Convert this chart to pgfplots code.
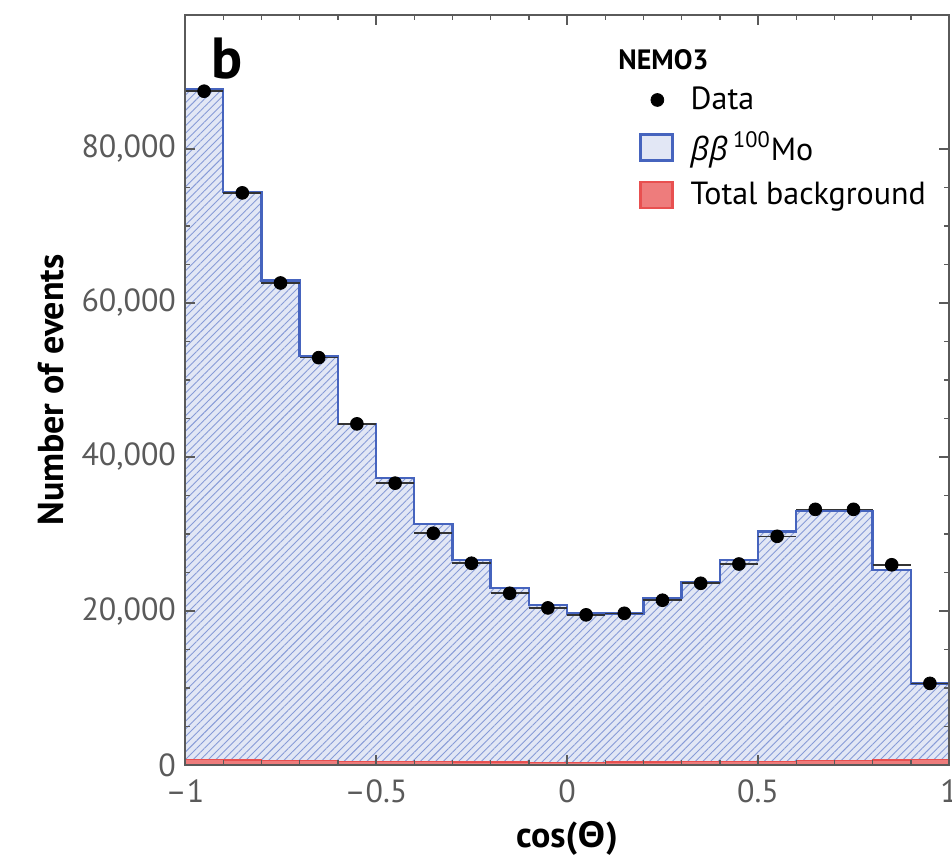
\documentclass[border=0pt]{standalone}
\usepackage{fontspec}
\setmainfont{PT Sans}
\newfontfamily\grk{Open Sans}
\usepackage{pgfplots}
\pgfplotsset{compat=1.18}
\usetikzlibrary{patterns.meta}

\definecolor{bbline}{RGB}{70,100,190}
\definecolor{bbfill}{RGB}{226,231,245}
\definecolor{bbhatch}{RGB}{135,155,215}
\definecolor{bgred}{RGB}{232,80,80}
\definecolor{axgray}{RGB}{90,90,90}

\begin{document}
\begin{tikzpicture}
\begin{axis}[
    name=ax,
    width=382pt, height=375pt,
    scale only axis,
    xmin=-1, xmax=1,
    ymin=0, ymax=97400,
    axis on top,
    axis line style={axgray, line width=0.8pt},
    every tick/.style={axgray, line width=0.7pt},
    tick align=inside,
    major tick length=5pt,
    minor tick length=2.5pt,
    xtick={-1,-0.5,0,0.5,1},
    xticklabels={--1,--0.5,0,0.5,1},
    minor x tick num=4,
    ytick={0,20000,40000,60000,80000},
    yticklabels={0,{20,000},{40,000},{60,000},{80,000}},
    minor y tick num=3,
    scaled y ticks=false,
    tick label style={font=\fontsize{16}{18}\selectfont, text=axgray},
    xticklabel style={yshift=-4pt},
    yticklabel style={xshift=-1pt},
    xlabel={\textbf{cos({\grk Θ})}},
    ylabel={\textbf{Number of events}},
    label style={font=\fontsize{18}{20}\selectfont},
    xlabel style={yshift=-2pt},
    ylabel style={yshift=2pt},
    legend style={at={(rel axis cs:0.586,0.915)}, anchor=north west,
        draw=none, fill=none, font=\fontsize{16}{18}\selectfont,
        row sep=5.5pt, cells={anchor=west}},
    legend cell align=left,
]
% beta beta 100Mo spectrum (histogram)
\addplot[const plot mark left, draw=bbline, line width=1.2pt,
    fill=bbfill, postaction={pattern={Lines[angle=45,distance=2.7pt,line width=0.45pt]}, pattern color=bbhatch},
    forget plot]
coordinates {
(-1.0,87800) (-0.9,74400) (-0.8,62900) (-0.7,53100) (-0.6,44300)
(-0.5,37300) (-0.4,31300) (-0.3,26600) (-0.2,23000) (-0.1,20800)
(0.0,19700) (0.1,19700) (0.2,21700) (0.3,23800) (0.4,26600)
(0.5,30300) (0.6,33000) (0.7,33000) (0.8,25300) (0.9,10600)
(1.0,10600)
} \closedcycle;
% total background
\addplot[const plot mark left, draw=bgred, line width=0.6pt,
    fill=bgred!75, forget plot]
coordinates {
(-1.0,700) (-0.9,650) (-0.8,600) (-0.7,550) (-0.6,500)
(-0.5,450) (-0.4,420) (-0.3,400) (-0.2,380) (-0.1,370)
(0.0,370) (0.1,380) (0.2,400) (0.3,420) (0.4,450)
(0.5,500) (0.6,550) (0.7,600) (0.8,650) (0.9,700)
(1.0,700)
} \closedcycle;
% data
\addplot[only marks, mark=*, mark size=3.2pt, black,
    error bars/.cd, x dir=both, x explicit,
    error mark=none, error bar style={black!80, line width=0.8pt},
    ]
table[x=x, y=y, x error=ex] {
x y ex
-0.95 87500 0.05
-0.85 74300 0.05
-0.75 62600 0.05
-0.65 52900 0.05
-0.55 44300 0.05
-0.45 36600 0.05
-0.35 30100 0.05
-0.25 26200 0.05
-0.15 22300 0.05
-0.05 20400 0.05
0.05 19500 0.05
0.15 19700 0.05
0.25 21400 0.05
0.35 23600 0.05
0.45 26100 0.05
0.55 29700 0.05
0.65 33200 0.05
0.75 33200 0.05
0.85 26000 0.05
0.95 10600 0.05
};
\addlegendentry{Data}
\addlegendimage{legend image code/.code={\draw[draw=bbline, fill=bbfill, line width=1.2pt] (0pt,-6.5pt) rectangle (16pt,6.5pt); \path (23pt,0);}}
\addlegendentry{{\grk\itshape ββ}\,\textsuperscript{100}Mo}
\addlegendimage{legend image code/.code={\draw[draw=bgred, fill=bgred!75, line width=1.2pt] (0pt,-6.5pt) rectangle (16pt,6.5pt); \path (23pt,0);}}
\addlegendentry{Total background}
\node[anchor=west, font=\fontsize{14}{16}\selectfont\bfseries] at (rel axis cs:0.558,0.94) {NEMO3};
\node[anchor=west, font=\fontsize{29}{30}\selectfont\bfseries] at (rel axis cs:0.025,0.942) {b};
\end{axis}
\pgfresetboundingbox
\path[use as bounding box] ([xshift=-92.5pt,yshift=-48pt]ax.south west) rectangle ([xshift=1.5pt,yshift=7.5pt]ax.north east);
\end{tikzpicture}
\end{document}
